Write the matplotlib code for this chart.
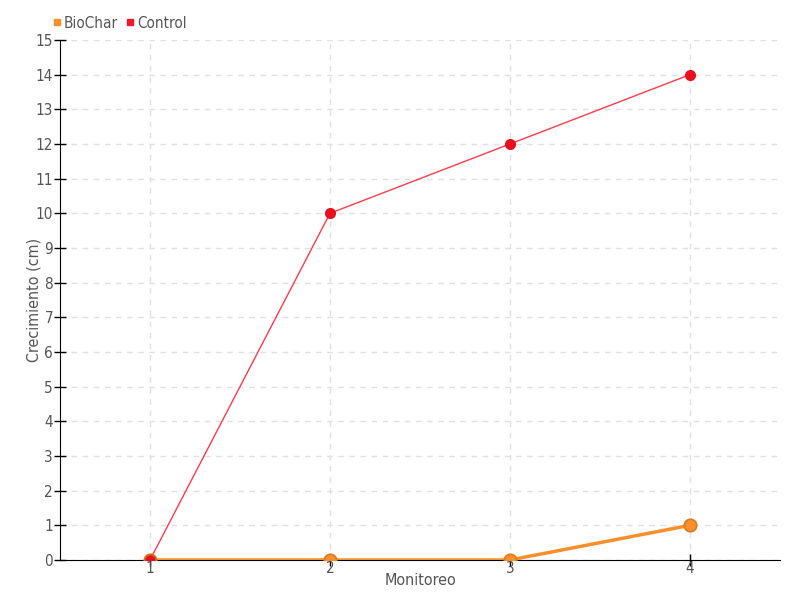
import matplotlib
matplotlib.use("Agg")
import matplotlib.pyplot as plt
from matplotlib.lines import Line2D

monitoreo = [1, 2, 3, 4]
biochar = [0, 0, 0, 1]
control = [0, 10, 12, 14]

plt.rcParams['font.family'] = ['DejaVu Sans']
plt.rcParams['font.stretch'] = 'condensed'

fig = plt.figure(figsize=(8, 6), dpi=100)
ax = fig.add_axes([0.075, 0.0667, 0.9, 0.8667])

ax.plot(monitoreo, control, color='#ff3b4a', lw=1, zorder=3)
ax.plot(monitoreo, control, 'o', color='#e8101e', ms=7, mec='#e8101e', zorder=5)
ax.plot(monitoreo, biochar, color='#f7902a', lw=2.5, zorder=4)
ax.plot(monitoreo, biochar, 'o', color='#f7902a', ms=9, mec='#e07a1a', mew=1.2, zorder=6)
# control point at x=1 drawn above
ax.plot(monitoreo[:1], control[:1], 'o', color='#e8101e', ms=8, mec='#c8641a', mew=1, zorder=7)

ax.set_xlim(0.5, 4.5)
ax.set_ylim(0, 15)
ax.set_xticks(monitoreo)
ax.set_yticks(range(0, 16))
ax.grid(True, color='#e0e0e0', linestyle=(0, (4, 4)), lw=1)
ax.set_axisbelow(True)
for s in ['top', 'right']:
    ax.spines[s].set_visible(False)
ax.spines['left'].set_color('black')
ax.spines['bottom'].set_color('black')
ax.tick_params(direction='inout', length=8, width=1, color='black',
               labelcolor='#555555', labelsize=11, pad=1)
ax.tick_params(axis='x', pad=-3)
ax.set_xlabel('Monitoreo', color='#555555', fontsize=11.5)
ax.xaxis.set_label_coords(0.5, -0.025)
ax.set_ylabel('Crecimiento (cm)', color='#555555', fontsize=11.5)
ax.yaxis.set_label_coords(-0.026, 0.5)

handles = [Line2D([], [], marker='s', ls='', color='#f7902a', ms=5),
           Line2D([], [], marker='s', ls='', color='#ee1a2a', ms=5)]
fig.legend(handles, ['BioChar', 'Control'], loc='upper left',
           bbox_to_anchor=(0.046, 0.997), ncol=2, frameon=False,
           handletextpad=0.05, columnspacing=0.4, handlelength=0.8,
           labelcolor='#555555', fontsize=11)

fig.savefig('out.png', dpi=100)
